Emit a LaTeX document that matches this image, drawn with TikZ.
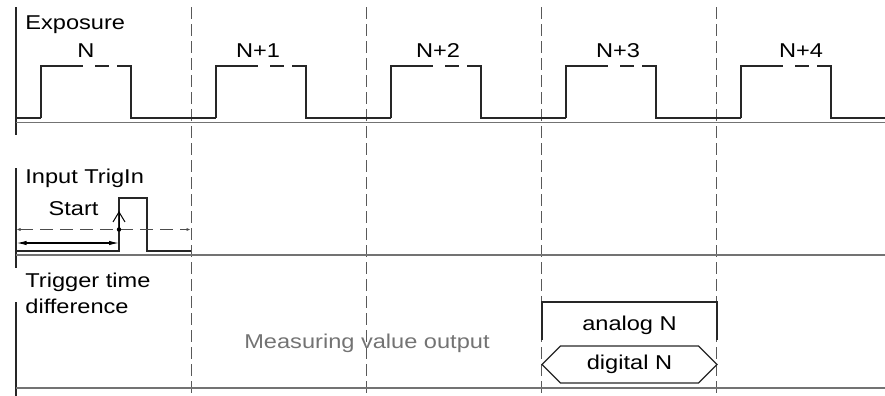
\documentclass[tikz,border=0pt]{standalone}
\usepackage{fontspec}
\setmainfont{Liberation Sans}[FakeStretch=1.18]
\usepackage{xcolor}
\usetikzlibrary{arrows.meta, shapes.symbols}

\begin{document}
\begin{tikzpicture}[
    x=0.5pt, y=-0.5pt,
    txt/.style={font=\fontsize{10}{12}\selectfont, inner sep=0pt},
    wave/.style={line width=0.65pt, black!85},
    rowline/.style={line width=0.75pt, black!55},
    cutline/.style={line width=0.5pt, black!65, dash pattern=on 6pt off 2.5pt},
    leftline/.style={line width=0.55pt, black!85},
    arrow/.style={{Latex[length=5pt, width=2.2pt]}-{Latex[length=5pt, width=2.2pt]}, line width=0.55pt},
    dasharrow/.style={{Latex[length=2pt, width=1.6pt]}-{Latex[length=2pt, width=1.6pt]}, line width=0.5pt, black!70, dash pattern=on 6.5pt off 3.5pt},
    barb/.style={-{Straight Barb[length=5pt, width=6pt]}, line width=0.5pt}
]
    \useasboundingbox (0,0) rectangle (885,396);

    \draw[leftline] (16,7) -- (16,135);
    \draw[leftline] (16,168) -- (16,268);
    \draw[leftline] (16,302) -- (16,396);
    \foreach \x in {191,366,541,716}
        \draw[cutline] (\x,7) -- (\x,396);
    \foreach \y in {122.5,255,388}
        \draw[rowline] (16,\y) -- (885,\y);

    \node[txt, anchor=base west] (exposure) at (25,29) {Exposure};
    \draw[wave] (16,118) -- (41,118);
    \foreach \r/\lx/\txt [count=\i] in {41/86/N, 216/258/N+1, 391/438/N+2, 566/618/N+3, 741/801/N+4} {
        \node[txt, anchor=base] (frame\i) at (\lx,57) {\txt};
        \draw[wave] (\r,118) -- (\r,66) -- ++(42,0);
        \draw[wave] (\r+54,66) -- (\r+68,66);
        \draw[wave] (\r+76,66) -- (\r+90,66) -- (\r+90,118) -- ({min(\r+175,885)},118);
    }

    \node[txt, anchor=base west] (trigin) at (25,183) {Input TrigIn};
    \node[txt, anchor=base] (start) at (73.5,215) {Start};
    \draw[wave] (16,251) -- (119,251) -- (119,198) -- (147,198) -- (147,251) -- (191,251);
    \coordinate (trigL) at (16.5,229.5);
    \coordinate (trigR) at (190.5,229.5);
    \coordinate (trigpt) at (119,229.5);
    \coordinate (trigtop) at (119,211);
    \coordinate (spanL) at (16.5,243);
    \coordinate (spanR) at (119,243);
    \draw[dasharrow] (trigL) -- (trigR);
    \draw[arrow] (spanL) -- (spanR);
    \fill (trigpt) circle (1.1pt);
    \draw[barb] (trigpt) -- (trigtop);

    \node[txt, anchor=base west] (trigtime) at (25,287) {Trigger time};
    \node[txt, anchor=base west] (difference) at (25,313) {difference};
    \node[txt, anchor=base, text=black!55] (output) at (367,348) {Measuring value output};
    \node[txt, anchor=base] (analog) at (629.5,330) {analog N};
    \draw[wave] (542,340) |- (717,302) -- (717,340);
    \node[txt, signal, draw=black!85, line width=0.65pt, signal to=west and east,
          minimum width=87.5pt, minimum height=18.5pt] (digital) at (629.5,364.5) {digital N};
\end{tikzpicture}
\end{document}
